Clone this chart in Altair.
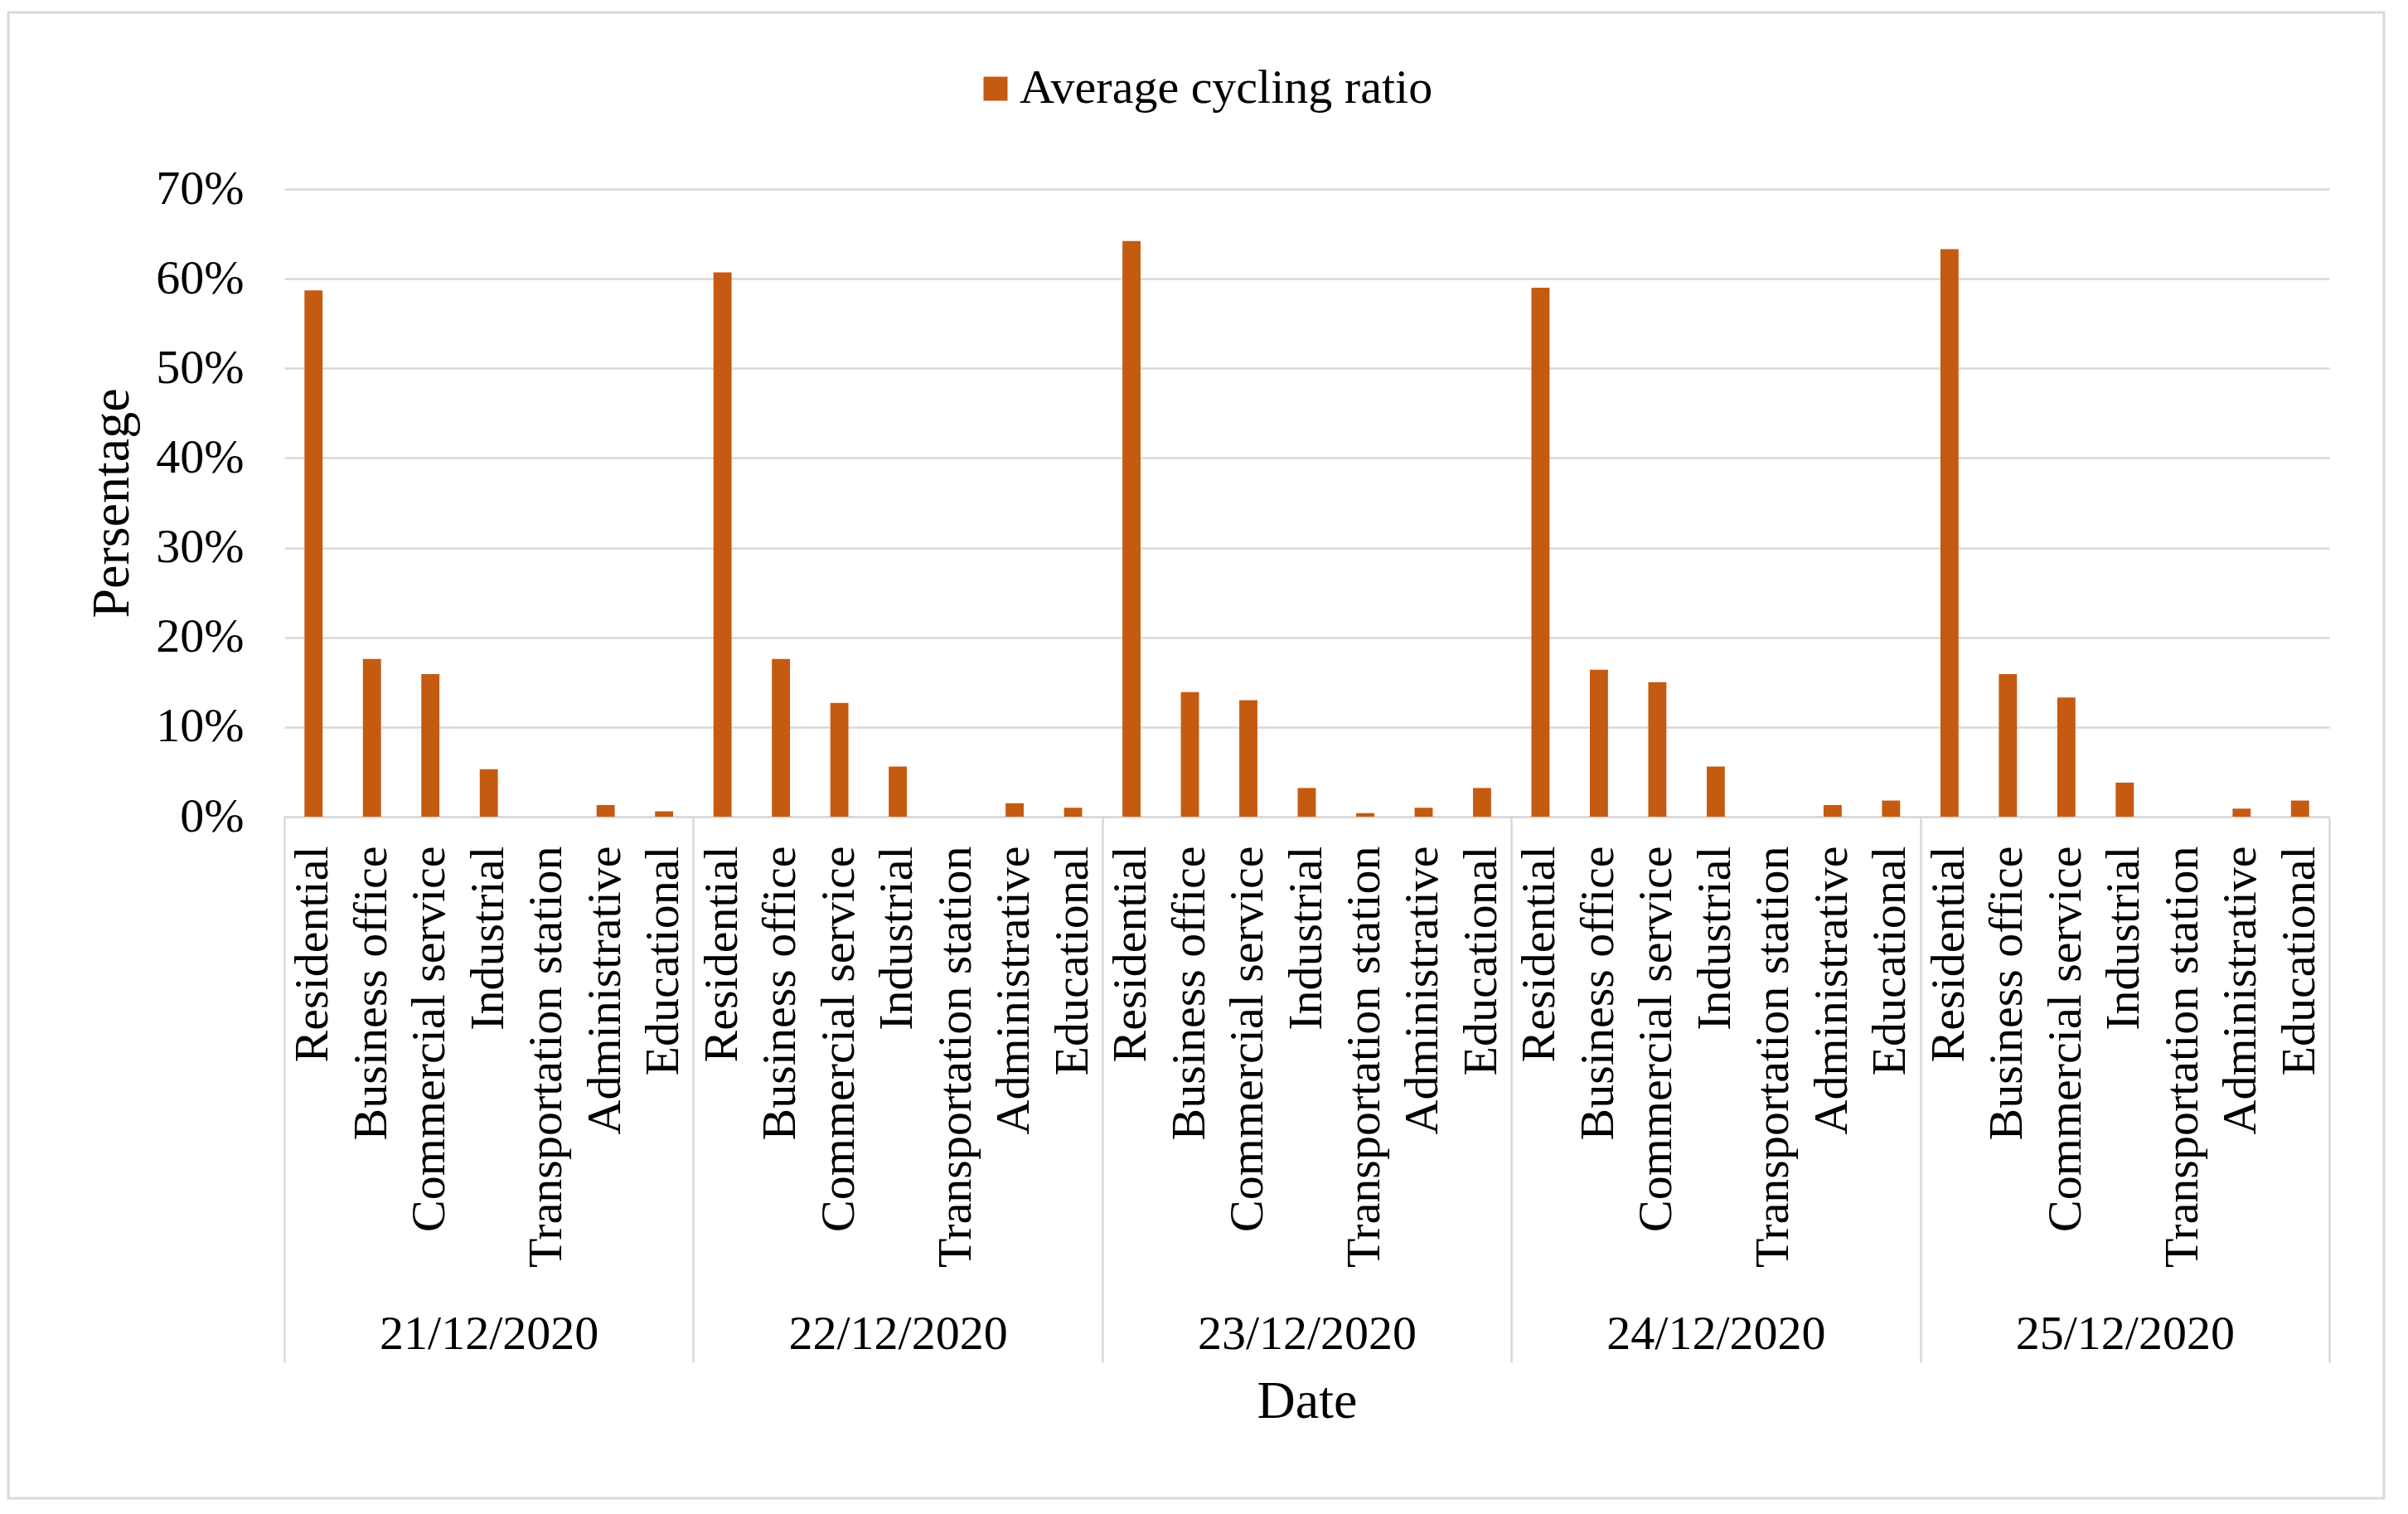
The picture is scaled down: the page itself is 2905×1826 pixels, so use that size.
import altair as alt
import pandas as pd

dates = ["21/12/2020", "22/12/2020", "23/12/2020", "24/12/2020", "25/12/2020"]
categories = ["Residential", "Business office", "Commercial service", "Industrial",
              "Transportation station", "Administrative", "Educational"]
v21 = [0.587, 0.176, 0.159, 0.053, 0.000, 0.013, 0.006]
v22 = [0.607, 0.176, 0.127, 0.056, 0.000, 0.015, 0.010]
v23 = [0.642, 0.139, 0.130, 0.032, 0.004, 0.010, 0.032]
v24 = [0.590, 0.164, 0.150, 0.056, 0.000, 0.013, 0.018]
v25 = [0.633, 0.159, 0.133, 0.038, 0.000, 0.009, 0.018]
series_name = "Average cycling ratio"
y_ticks = [0.0, 0.1, 0.2, 0.3, 0.4, 0.5, 0.6, 0.7]

values_by_date = [v21, v22, v23, v24, v25]
rows = []
for d, vals in zip(dates, values_by_date):
    for c, v in zip(categories, vals):
        rows.append({"date": d, "category": c, "key": f"{d}|{c}", "value": v, "series": series_name})
df = pd.DataFrame(rows)
keys = list(df["key"])

FONT = "Liberation Serif"
GRID = "#d9d9d9"
BAR = "#C55A11"
W, H = 2467, 757

frame = alt.Chart(alt.Data(values=[{}])).mark_rect(
    fill="transparent", stroke=GRID, strokeWidth=3, clip=False
).encode(x=alt.value(-333), x2=alt.value(2533), y=alt.value(-213), y2=alt.value(1579))

bars = alt.Chart(df).mark_bar(color=BAR).encode(
    x=alt.X("key:N", sort=keys,
            scale=alt.Scale(paddingInner=0.69, paddingOuter=0.345),
            axis=alt.Axis(orient="bottom", title=None, ticks=False, labelAngle=270,
                          labelExpr="split(datum.label, '|')[1]", labelPadding=35,
                          labelFontSize=58, labelLimit=1000, labelOverlap=False,
                          domainColor=GRID, domainWidth=2.5, grid=False)),
    y=alt.Y("value:Q", scale=alt.Scale(domain=[0, 0.7], nice=False),
            axis=alt.Axis(title="Persentage", format=".0%", values=y_ticks, ticks=False,
                          domain=False, gridColor=GRID, gridWidth=2.5, labelPadding=49,
                          labelFontSize=58, titleFontSize=64, titlePadding=20)),
    color=alt.Color("series:N", scale=alt.Scale(range=[BAR]),
                    legend=alt.Legend(title=None, orient="none", legendX=829, legendY=-150,
                                      symbolType="square", symbolSize=841, labelFontSize=58,
                                      labelOffset=0, labelLimit=1000, padding=0)),
)

date_axis = alt.Chart(df).mark_point(opacity=0).encode(
    x=alt.X("date:N", sort=dates,
            scale=alt.Scale(type="band", paddingInner=0, paddingOuter=0),
            axis=alt.Axis(orient="bottom", title="Date", tickBand="extent", tickSize=658,
                          tickColor=GRID, tickWidth=2.5, domain=False, grid=False, labelAngle=0,
                          labelBaseline="middle", labelPadding=-34, labelFontSize=58,
                          labelLimit=1000, labelOverlap=False,
                          titleFontSize=64, titleY=705, titleBaseline="middle")),
)

chart = alt.layer(frame, bars, date_axis).resolve_scale(x="independent").properties(
    width=W, height=H,
    autosize=alt.AutoSizeParams(type="none"),
    padding={"left": 335, "top": 220, "right": 80, "bottom": 825},
    background="white",
).configure_axis(
    labelFont=FONT, titleFont=FONT, labelColor="#000", titleColor="#000", titleFontWeight="normal"
).configure_legend(
    labelFont=FONT, labelColor="#000"
).configure_view(strokeWidth=0)

chart.save("out.html", embed_options={"renderer": "svg", "actions": False})
